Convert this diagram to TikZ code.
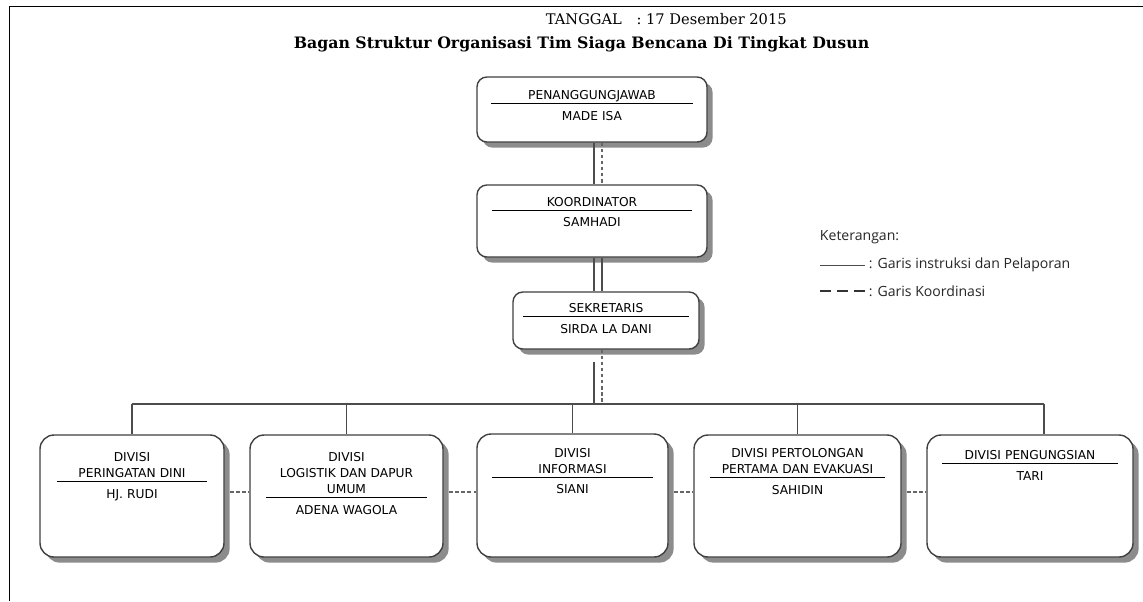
\documentclass[tikz,border=0pt]{standalone}
\usepackage{fontspec}
\setmainfont{DejaVu Serif}
\newfontfamily\kotakfont{DejaVu Sans}
\newfontfamily\ketfont{Open Sans}
\usetikzlibrary{positioning, fit, shadows, calc}
\newcommand{\pemisah}{\\[-8pt]\rule{\hsize}{0.9pt}\\}

\begin{document}
\begin{tikzpicture}[x=0.025cm, y=-0.025cm,
    kotak/.style={draw=black!75, line width=1pt, rounded corners=7pt, fill=white, inner sep=0pt,
        drop shadow={shadow xshift=4pt, shadow yshift=-4pt, fill=black!45, opacity=1}},
    isi/.style={font=\kotakfont\fontsize{8.7}{11.4}\selectfont, align=center, inner sep=0pt, text=black},
    lapor/.style={draw=black!70, line width=0.8pt},
    koordinasi/.style={draw=black!60, line width=0.8pt, dash pattern=on 2.5pt off 1.8pt},
    ket/.style={font=\ketfont\fontsize{10}{12}\selectfont, anchor=west, text=black!85}]
    \useasboundingbox (0,0) rectangle (1143,601);

    \draw[line width=1.4pt] (1143,6.5) -- (9.5,6.5) -- (9.5,601);

    \node[anchor=west, font=\fontsize{10.4}{12}\selectfont] (tanggal) at (541,19) {TANGGAL\hspace{1em}: 17 Desember 2015};
    \node[font=\bfseries\fontsize{11.2}{13}\selectfont] (judul) at (581.5,44) {Bagan Struktur Organisasi Tim Siaga Bencana Di Tingkat Dusun};

    \node[kotak, fit={(477,77) (707,142)}] (ketua) {};
    \node[isi, text width=144pt, below=3.4mm of ketua.north] (ketua-isi) {PENANGGUNGJAWAB\pemisah MADE ISA};

    \node[kotak, fit={(477,185) (707,257)}] (koord) {};
    \node[isi, text width=142pt, below=3.1mm of koord.north] (koord-isi) {KOORDINATOR\pemisah SAMHADI};

    \node[kotak, fit={(513,292) (699,349)}] (sekr) {};
    \node[isi, text width=118pt, below=2.9mm of sekr.north] (sekr-isi) {SEKRETARIS\pemisah SIRDA LA DANI};

    \node[kotak, rounded corners=10pt, fit={(40,435) (224,557)}] (divA) {};
    \node[isi, text width=107pt, below=4.4mm of divA.north] (divA-isi) {DIVISI\\PERINGATAN DINI\pemisah HJ. RUDI};

    \node[kotak, rounded corners=10pt, fit={(250,435) (443,557)}] (divB) {};
    \node[isi, text width=114pt, below=4.4mm of divB.north] (divB-isi) {DIVISI\\LOGISTIK DAN DAPUR\\UMUM\pemisah ADENA WAGOLA};

    \node[kotak, rounded corners=10pt, fit={(477,434) (668,557)}] (divC) {};
    \node[isi, text width=114pt, below=3.6mm of divC.north] (divC-isi) {DIVISI\\INFORMASI\pemisah SIANI};

    \node[kotak, rounded corners=10pt, fit={(694,435) (901,557)}] (divD) {};
    \node[isi, text width=125pt, below=3.4mm of divD.north] (divD-isi) {DIVISI PERTOLONGAN\\PERTAMA DAN EVAKUASI\pemisah SAHIDIN};

    \node[kotak, rounded corners=10pt, fit={(927,435) (1133,557)}] (divE) {};
    \node[isi, text width=125pt, below=3.9mm of divE.north] (divE-isi) {DIVISI PENGUNGSIAN\pemisah TARI};

    \coordinate (jalur) at (594,0);
    \coordinate (jalur2) at (602,0);
    \coordinate (ujung) at (1044,404);
    \coordinate (hub) at (0,492);

    \draw[lapor] (ketua.south -| jalur) -- (koord.north -| jalur);
    \draw[koordinasi] (ketua.south -| jalur2) -- (koord.north -| jalur2);
    \draw[lapor] (koord.south -| jalur) -- (sekr.north -| jalur);
    \draw[lapor] (koord.south -| jalur2) -- (sekr.north -| jalur2);
    \draw[lapor, shorten <=9pt] (sekr.south -| jalur) -- (ujung -| jalur);
    \draw[koordinasi] (sekr.south -| jalur2) -- (ujung -| jalur2);

    \draw[lapor] (divA.north |- ujung) -- (ujung);
    \foreach \d in {divA, divB, divC, divD}
        \draw[lapor] (\d.north |- ujung) -- (\d.north);
    \draw[lapor] (ujung) -- (ujung |- divE.north);

    \foreach \a/\b in {divA/divB, divB/divC, divC/divD, divD/divE}
        \draw[koordinasi, shorten <=4pt] (\a.east |- hub) -- (\b.west |- hub);

    \node[ket] (keterangan) at (815,237) {Keterangan:};
    \draw[black!70, line width=0.6pt] (820,265) -- (865,265);
    \node[ket] (ket-lapor) at (864,265) {: Garis instruksi dan Pelaporan};
    \draw[black!80, line width=1.4pt, dash pattern=on 7.8pt off 4.3pt] (820,291) -- (865,291);
    \node[ket] (ket-koord) at (864,291) {: Garis Koordinasi};

\end{tikzpicture}
\end{document}
